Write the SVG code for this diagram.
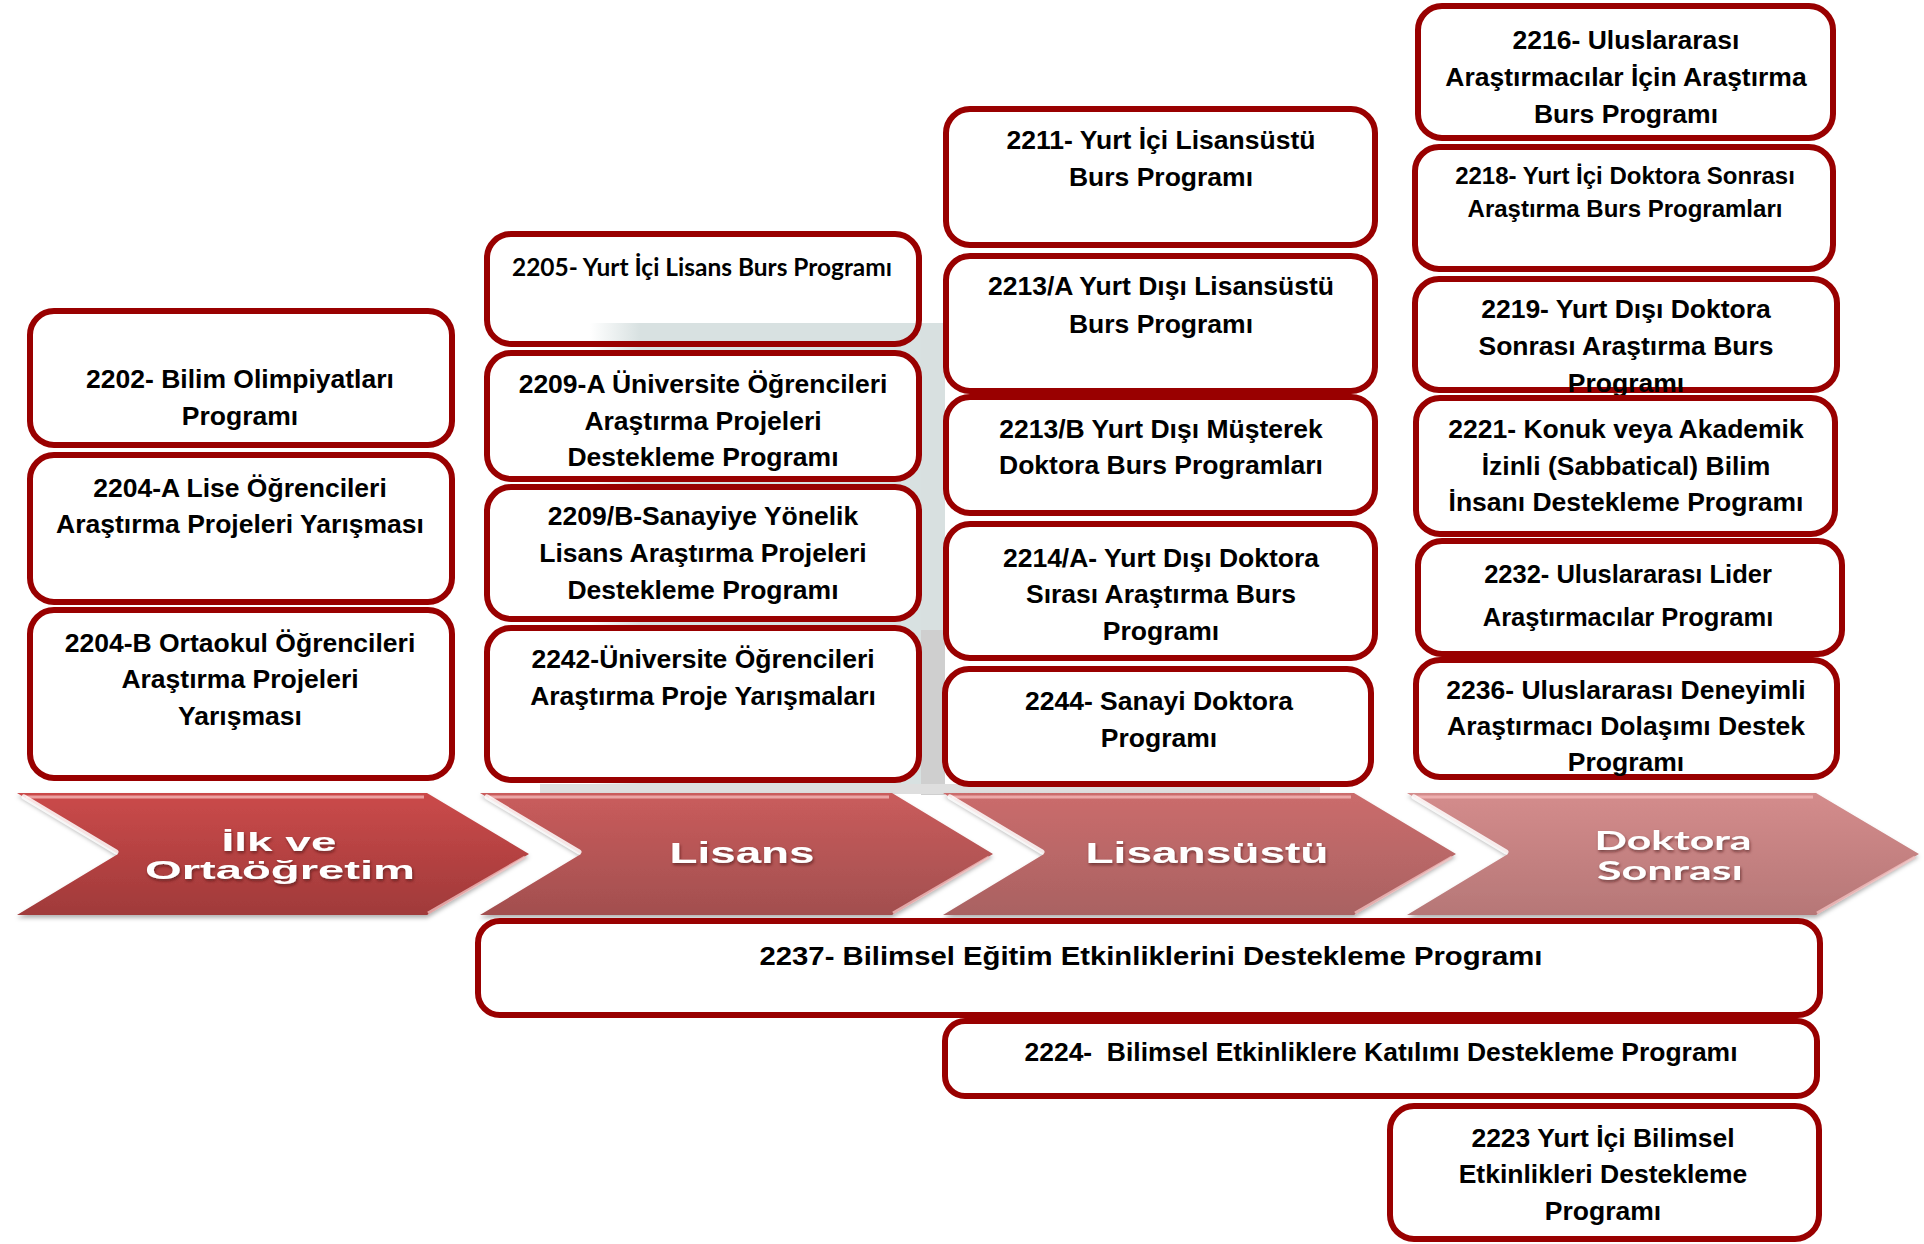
<svg xmlns="http://www.w3.org/2000/svg" width="1924" height="1244" viewBox="0 0 1924 1244">
<defs>
<style>
.box{fill:#fff;stroke:#990000;stroke-width:6}
.t{font-family:"Liberation Sans",Arial,sans-serif;font-weight:bold;font-size:26.5px;fill:#000;text-anchor:middle}
.s24{font-size:24px}
.s25{font-size:25.5px}
.lab{font-family:"Liberation Sans",Arial,sans-serif;font-weight:bold;font-size:29px;fill:#fff;text-anchor:middle}
.lab2{font-size:26.5px}
.cal{font-family:Lato,"Liberation Sans",sans-serif}
.hl{stroke:#ffffff;stroke-width:5;stroke-linecap:round;opacity:.85;fill:none}
.ht{stroke:#f4b8b8;stroke-width:3;opacity:.8;fill:none}
.hr{stroke:#f6c4c4;stroke-width:3;opacity:.75;fill:none}
</style>
<linearGradient id="g1" x1="0" y1="0" x2="0" y2="1"><stop offset="0" stop-color="#cb4a4a"/><stop offset="1" stop-color="#a03a3a"/></linearGradient>
<linearGradient id="g2" x1="0" y1="0" x2="0" y2="1"><stop offset="0" stop-color="#ca5c5c"/><stop offset="1" stop-color="#a24f4f"/></linearGradient>
<linearGradient id="g3" x1="0" y1="0" x2="0" y2="1"><stop offset="0" stop-color="#cb6c6c"/><stop offset="1" stop-color="#a96262"/></linearGradient>
<linearGradient id="g4" x1="0" y1="0" x2="0" y2="1"><stop offset="0" stop-color="#d48c8c"/><stop offset="1" stop-color="#b67777"/></linearGradient>
<linearGradient id="bandfade" gradientUnits="userSpaceOnUse" x1="590" y1="0" x2="640" y2="0"><stop offset="0" stop-color="#ffffff"/><stop offset="1" stop-color="#d8e1e1"/></linearGradient>
<filter id="shadow" x="-5%" y="-10%" width="110%" height="130%"><feDropShadow dx="0" dy="3" stdDeviation="2" flood-color="#000" flood-opacity=".3"/></filter>
<filter id="tsh" x="-10%" y="-30%" width="120%" height="160%"><feDropShadow dx="1" dy="2" stdDeviation="1.5" flood-color="#401010" flood-opacity=".6"/></filter>
</defs>
<rect x="0" y="0" width="1924" height="1244" fill="#ffffff"/>

<g id="backdrop">
<rect x="590" y="323" width="355" height="470" fill="url(#bandfade)"/>
<rect x="921" y="330" width="24" height="300" fill="#d8e0e0"/>
<rect x="921" y="630" width="24" height="165" fill="#cfcfcf"/>
<rect x="540" y="784" width="780" height="10" fill="#dedede"/>
</g>

<g id="connectors"></g>

<!-- Column 1 -->
<g id="n2202">
<rect class="box" x="30" y="311" width="422" height="134" rx="24"/>
<text class="t" x="240" y="388">2202- Bilim Olimpiyatları</text>
<text class="t" x="240" y="425">Programı</text>
</g>
<g id="n2204A">
<rect class="box" x="30" y="455" width="422" height="147" rx="24"/>
<text class="t" x="240" y="497">2204-A Lise Öğrencileri</text>
<text class="t" x="240" y="533">Araştırma Projeleri Yarışması</text>
</g>
<g id="n2204B">
<rect class="box" x="30" y="610" width="422" height="168" rx="24"/>
<text class="t" x="240" y="652">2204-B Ortaokul Öğrencileri</text>
<text class="t" x="240" y="688">Araştırma Projeleri</text>
<text class="t" x="240" y="725">Yarışması</text>
</g>

<!-- Column 2 -->
<g id="n2205">
<rect class="box" style="fill:none" x="487" y="234" width="432" height="110" rx="24"/>
<text class="t cal" x="702" y="276" style="font-size:24px" textLength="380" lengthAdjust="spacingAndGlyphs">2205- Yurt İçi Lisans Burs Programı</text>
</g>
<g id="n2209A">
<rect class="box" x="487" y="353" width="432" height="126" rx="24"/>
<text class="t" x="703" y="393">2209-A Üniversite Öğrencileri</text>
<text class="t" x="703" y="430">Araştırma Projeleri</text>
<text class="t" x="703" y="466">Destekleme Programı</text>
</g>
<g id="n2209B">
<rect class="box" x="487" y="487" width="432" height="132" rx="24"/>
<text class="t" x="703" y="525">2209/B-Sanayiye Yönelik</text>
<text class="t" x="703" y="562">Lisans Araştırma Projeleri</text>
<text class="t" x="703" y="599">Destekleme Programı</text>
</g>
<g id="n2242">
<rect class="box" x="487" y="628" width="432" height="152" rx="24"/>
<text class="t" x="703" y="668">2242-Üniversite Öğrencileri</text>
<text class="t" x="703" y="705">Araştırma Proje Yarışmaları</text>
</g>

<!-- Column 3 -->
<g id="n2211">
<rect class="box" x="946" y="109" width="429" height="136" rx="24"/>
<text class="t" x="1161" y="149">2211- Yurt İçi Lisansüstü</text>
<text class="t" x="1161" y="186">Burs Programı</text>
</g>
<g id="n2213A">
<rect class="box" x="946" y="256" width="429" height="135" rx="24"/>
<text class="t" x="1161" y="295">2213/A Yurt Dışı Lisansüstü</text>
<text class="t" x="1161" y="333">Burs Programı</text>
</g>
<g id="n2213B">
<rect class="box" x="946" y="397" width="429" height="116" rx="24"/>
<text class="t" x="1161" y="438">2213/B Yurt Dışı Müşterek</text>
<text class="t" x="1161" y="474">Doktora Burs Programları</text>
</g>
<g id="n2214A">
<rect class="box" x="946" y="524" width="429" height="134" rx="24"/>
<text class="t" x="1161" y="567">2214/A- Yurt Dışı Doktora</text>
<text class="t" x="1161" y="603">Sırası Araştırma Burs</text>
<text class="t" x="1161" y="640">Programı</text>
</g>
<g id="n2244">
<rect class="box" x="945" y="669" width="426" height="115" rx="24"/>
<text class="t" x="1159" y="710">2244- Sanayi Doktora</text>
<text class="t" x="1159" y="747">Programı</text>
</g>

<!-- Column 4 -->
<g id="n2216">
<rect class="box" x="1418" y="6" width="415" height="132" rx="24"/>
<text class="t" x="1626" y="49">2216- Uluslararası</text>
<text class="t" x="1626" y="86">Araştırmacılar İçin Araştırma</text>
<text class="t" x="1626" y="123">Burs Programı</text>
</g>
<g id="n2218">
<rect class="box" x="1415" y="147" width="418" height="122" rx="24"/>
<text class="t s24" x="1625" y="184">2218- Yurt İçi Doktora Sonrası</text>
<text class="t s24" x="1625" y="217">Araştırma Burs Programları</text>
</g>
<g id="n2219">
<rect class="box" x="1415" y="279" width="422" height="111" rx="24"/>
<text class="t" x="1626" y="318">2219- Yurt Dışı Doktora</text>
<text class="t" x="1626" y="355">Sonrası Araştırma Burs</text>
<text class="t" x="1626" y="392">Programı</text>
</g>
<g id="n2221">
<rect class="box" x="1416" y="398" width="419" height="136" rx="24"/>
<text class="t" x="1626" y="438">2221- Konuk veya Akademik</text>
<text class="t" x="1626" y="475">İzinli (Sabbatical) Bilim</text>
<text class="t" x="1626" y="511">İnsanı Destekleme Programı</text>
</g>
<g id="n2232">
<rect class="box" x="1418" y="541" width="424" height="113" rx="24"/>
<text class="t s25" x="1628" y="583">2232- Uluslararası Lider</text>
<text class="t s25" x="1628" y="626">Araştırmacılar Programı</text>
</g>
<g id="n2236">
<rect class="box" x="1416" y="660" width="421" height="117" rx="24"/>
<text class="t" x="1626" y="699">2236- Uluslararası Deneyimli</text>
<text class="t" x="1626" y="735">Araştırmacı Dolaşımı Destek</text>
<text class="t" x="1626" y="771">Programı</text>
</g>

<!-- Chevrons -->
<g id="stage1">
<polygon points="17,793 427,793 529,854 427,915 17,915 118,854" fill="url(#g1)" filter="url(#shadow)"/>
<polyline class="ht" points="26,797 424,797"/>
<line class="hl" x1="24" y1="797" x2="116" y2="852"/>
<line class="hr" x1="525" y1="857" x2="428" y2="913"/>
<text class="lab lab2" x="279" y="851" textLength="115" lengthAdjust="spacingAndGlyphs" filter="url(#tsh)">İlk ve</text>
<text class="lab lab2" x="280" y="879" textLength="270" lengthAdjust="spacingAndGlyphs" filter="url(#tsh)">Ortaöğretim</text>
</g>
<g id="stage2">
<polygon points="480,793 892,793 993,854 892,915 480,915 581,854" fill="url(#g2)" filter="url(#shadow)"/>
<polyline class="ht" points="489,797 889,797"/>
<line class="hl" x1="487" y1="797" x2="579" y2="852"/>
<line class="hr" x1="989" y1="857" x2="893" y2="913"/>
<text class="lab" x="742" y="863" textLength="145" lengthAdjust="spacingAndGlyphs" filter="url(#tsh)">Lisans</text>
</g>
<g id="stage3">
<polygon points="943,793 1354,793 1456,854 1354,915 943,915 1044,854" fill="url(#g3)" filter="url(#shadow)"/>
<polyline class="ht" points="952,797 1351,797"/>
<line class="hl" x1="950" y1="797" x2="1042" y2="852"/>
<line class="hr" x1="1452" y1="857" x2="1355" y2="913"/>
<text class="lab" x="1207" y="863" textLength="243" lengthAdjust="spacingAndGlyphs" filter="url(#tsh)">Lisansüstü</text>
</g>
<g id="stage4">
<polygon points="1407,793 1816,793 1919,854 1816,915 1407,915 1508,854" fill="url(#g4)" filter="url(#shadow)"/>
<polyline class="ht" points="1416,797 1813,797"/>
<line class="hl" x1="1414" y1="797" x2="1506" y2="852"/>
<line class="hr" x1="1915" y1="857" x2="1817" y2="913"/>
<text class="lab lab2 cal" x="1673" y="850" textLength="157" lengthAdjust="spacingAndGlyphs" filter="url(#tsh)">Doktora</text>
<text class="lab lab2 cal" x="1670" y="880" textLength="146" lengthAdjust="spacingAndGlyphs" filter="url(#tsh)">Sonrası</text>
</g>

<!-- Bottom spanning boxes -->
<g id="n2237">
<rect class="box" x="478" y="921" width="1342" height="94" rx="22"/>
<text class="t" x="1151" y="965" textLength="783" lengthAdjust="spacingAndGlyphs">2237- Bilimsel Eğitim Etkinliklerini Destekleme Programı</text>
</g>
<g id="n2224">
<rect class="box" x="945" y="1021" width="872" height="75" rx="20"/>
<text class="t" x="1381" y="1061" textLength="713" lengthAdjust="spacingAndGlyphs">2224-&#160; Bilimsel Etkinliklere Katılımı Destekleme Programı</text>
</g>
<g id="n2223">
<rect class="box" x="1390" y="1106" width="429" height="133" rx="24"/>
<text class="t" x="1603" y="1147">2223 Yurt İçi Bilimsel</text>
<text class="t" x="1603" y="1183">Etkinlikleri Destekleme</text>
<text class="t" x="1603" y="1220">Programı</text>
</g>
</svg>
